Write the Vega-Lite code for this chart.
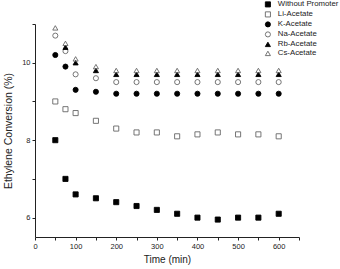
{
  "$schema": "https://vega.github.io/schema/vega-lite/v6.json",
  "autosize": "none",
  "width": 264,
  "height": 213,
  "padding": {"left": 35, "top": 24, "right": 41, "bottom": 32},
  "background": "white",
  "config": {
    "font": "Liberation Sans",
    "view": {"stroke": null},
    "axis": {
      "grid": false,
      "domainColor": "#222",
      "tickColor": "#222",
      "labelColor": "#222",
      "titleColor": "#222",
      "labelFont": "Liberation Sans",
      "titleFont": "Liberation Sans",
      "titleFontWeight": "normal",
      "labelFontSize": 7.5,
      "tickSize": 3,
      "domainWidth": 1,
      "tickWidth": 1
    }
  },
  "data": {
    "values": [
      {"series": "Without Promoter", "time": 50, "value": 8.0},
      {"series": "Without Promoter", "time": 75, "value": 7.0},
      {"series": "Without Promoter", "time": 100, "value": 6.6},
      {"series": "Without Promoter", "time": 150, "value": 6.5},
      {"series": "Without Promoter", "time": 200, "value": 6.4},
      {"series": "Without Promoter", "time": 250, "value": 6.3},
      {"series": "Without Promoter", "time": 300, "value": 6.2},
      {"series": "Without Promoter", "time": 350, "value": 6.1},
      {"series": "Without Promoter", "time": 400, "value": 6.0},
      {"series": "Without Promoter", "time": 450, "value": 5.95},
      {"series": "Without Promoter", "time": 500, "value": 6.0},
      {"series": "Without Promoter", "time": 550, "value": 6.0},
      {"series": "Without Promoter", "time": 600, "value": 6.1},
      {"series": "Li-Acetate", "time": 50, "value": 9.0},
      {"series": "Li-Acetate", "time": 75, "value": 8.8},
      {"series": "Li-Acetate", "time": 100, "value": 8.7},
      {"series": "Li-Acetate", "time": 150, "value": 8.5},
      {"series": "Li-Acetate", "time": 200, "value": 8.3},
      {"series": "Li-Acetate", "time": 250, "value": 8.2},
      {"series": "Li-Acetate", "time": 300, "value": 8.2},
      {"series": "Li-Acetate", "time": 350, "value": 8.1},
      {"series": "Li-Acetate", "time": 400, "value": 8.15},
      {"series": "Li-Acetate", "time": 450, "value": 8.2},
      {"series": "Li-Acetate", "time": 500, "value": 8.15},
      {"series": "Li-Acetate", "time": 550, "value": 8.15},
      {"series": "Li-Acetate", "time": 600, "value": 8.1},
      {"series": "K-Acetate", "time": 50, "value": 10.2},
      {"series": "K-Acetate", "time": 75, "value": 9.9},
      {"series": "K-Acetate", "time": 100, "value": 9.3},
      {"series": "K-Acetate", "time": 150, "value": 9.25},
      {"series": "K-Acetate", "time": 200, "value": 9.2},
      {"series": "K-Acetate", "time": 250, "value": 9.2},
      {"series": "K-Acetate", "time": 300, "value": 9.2},
      {"series": "K-Acetate", "time": 350, "value": 9.2},
      {"series": "K-Acetate", "time": 400, "value": 9.2},
      {"series": "K-Acetate", "time": 450, "value": 9.2},
      {"series": "K-Acetate", "time": 500, "value": 9.2},
      {"series": "K-Acetate", "time": 550, "value": 9.2},
      {"series": "K-Acetate", "time": 600, "value": 9.2},
      {"series": "Na-Acetate", "time": 50, "value": 10.7},
      {"series": "Na-Acetate", "time": 75, "value": 10.3},
      {"series": "Na-Acetate", "time": 100, "value": 9.7},
      {"series": "Na-Acetate", "time": 150, "value": 9.6},
      {"series": "Na-Acetate", "time": 200, "value": 9.5},
      {"series": "Na-Acetate", "time": 250, "value": 9.5},
      {"series": "Na-Acetate", "time": 300, "value": 9.5},
      {"series": "Na-Acetate", "time": 350, "value": 9.5},
      {"series": "Na-Acetate", "time": 400, "value": 9.5},
      {"series": "Na-Acetate", "time": 450, "value": 9.5},
      {"series": "Na-Acetate", "time": 500, "value": 9.5},
      {"series": "Na-Acetate", "time": 550, "value": 9.5},
      {"series": "Na-Acetate", "time": 600, "value": 9.5},
      {"series": "Rb-Acetate", "time": 75, "value": 10.4},
      {"series": "Rb-Acetate", "time": 100, "value": 10.0},
      {"series": "Rb-Acetate", "time": 150, "value": 9.8},
      {"series": "Rb-Acetate", "time": 200, "value": 9.7},
      {"series": "Rb-Acetate", "time": 250, "value": 9.7},
      {"series": "Rb-Acetate", "time": 300, "value": 9.7},
      {"series": "Rb-Acetate", "time": 350, "value": 9.7},
      {"series": "Rb-Acetate", "time": 400, "value": 9.7},
      {"series": "Rb-Acetate", "time": 450, "value": 9.7},
      {"series": "Rb-Acetate", "time": 500, "value": 9.7},
      {"series": "Rb-Acetate", "time": 550, "value": 9.7},
      {"series": "Rb-Acetate", "time": 600, "value": 9.7},
      {"series": "Cs-Acetate", "time": 50, "value": 10.9},
      {"series": "Cs-Acetate", "time": 75, "value": 10.5},
      {"series": "Cs-Acetate", "time": 100, "value": 10.1},
      {"series": "Cs-Acetate", "time": 150, "value": 9.9},
      {"series": "Cs-Acetate", "time": 200, "value": 9.8},
      {"series": "Cs-Acetate", "time": 250, "value": 9.8},
      {"series": "Cs-Acetate", "time": 300, "value": 9.8},
      {"series": "Cs-Acetate", "time": 350, "value": 9.8},
      {"series": "Cs-Acetate", "time": 400, "value": 9.8},
      {"series": "Cs-Acetate", "time": 450, "value": 9.8},
      {"series": "Cs-Acetate", "time": 500, "value": 9.8},
      {"series": "Cs-Acetate", "time": 550, "value": 9.8},
      {"series": "Cs-Acetate", "time": 600, "value": 9.8}
    ]
  },
  "mark": {"type": "point", "size": 26, "strokeWidth": 0.9, "opacity": 1, "filled": false},
  "encoding": {
    "x": {
      "field": "time",
      "type": "quantitative",
      "scale": {"domain": [0, 650], "nice": false, "zero": false},
      "axis": {
        "title": "Time (min)",
        "titleFontSize": 10,
        "titlePadding": 5,
        "values": [0, 50, 100, 150, 200, 250, 300, 350, 400, 450, 500, 550, 600, 650],
        "labelExpr": "datum.value % 100 === 0 && datum.value <= 600 ? datum.label : ''",
        "labelPadding": 2,
        "labelFlush": false
      }
    },
    "y": {
      "field": "value",
      "type": "quantitative",
      "scale": {"domain": [5.5, 11], "nice": false, "zero": false},
      "axis": {
        "title": "Ethylene Conversion (%)",
        "titleFontSize": 10.5,
        "titlePadding": 8,
        "values": [6, 7, 8, 9, 10, 11],
        "labelExpr": "datum.value % 2 === 0 ? datum.label : ''",
        "labelPadding": 2,
        "labelFlush": false
      }
    },
    "shape": {
      "field": "series",
      "type": "nominal",
      "sort": ["Without Promoter", "Li-Acetate", "K-Acetate", "Na-Acetate", "Rb-Acetate", "Cs-Acetate"],
      "scale": {
        "domain": ["Without Promoter", "Li-Acetate", "K-Acetate", "Na-Acetate", "Rb-Acetate", "Cs-Acetate"],
        "range": ["square", "square", "circle", "circle", "triangle-up", "triangle-up"]
      },
      "legend": {
        "title": null,
        "orient": "none",
        "legendX": 229,
        "legendY": -23.5,
        "padding": 0,
        "labelFontSize": 7.8,
        "labelFont": "Liberation Sans",
        "labelColor": "#222",
        "labelOffset": 6,
        "labelLimit": 200,
        "rowPadding": 0,
        "symbolSize": 26,
        "symbolStrokeWidth": 0.9
      }
    },
    "fill": {
      "field": "series",
      "type": "nominal",
      "scale": {
        "domain": ["Without Promoter", "Li-Acetate", "K-Acetate", "Na-Acetate", "Rb-Acetate", "Cs-Acetate"],
        "range": ["#000000", "transparent", "#000000", "transparent", "#000000", "transparent"]
      },
      "legend": null
    },
    "stroke": {
      "field": "series",
      "type": "nominal",
      "scale": {
        "domain": ["Without Promoter", "Li-Acetate", "K-Acetate", "Na-Acetate", "Rb-Acetate", "Cs-Acetate"],
        "range": ["#000000", "#666666", "#000000", "#666666", "#000000", "#666666"]
      },
      "legend": null
    }
  }
}
